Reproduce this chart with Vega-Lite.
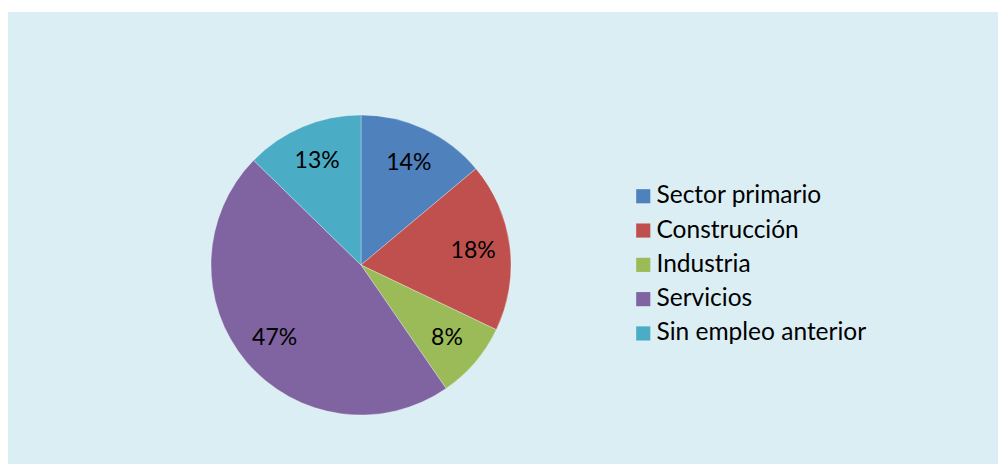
{
  "$schema": "https://vega.github.io/schema/vega-lite/v6.json",
  "padding": {"left": 8, "top": 12, "right": 0, "bottom": 0},
  "background": "white",
  "spacing": 0,
  "config": {
    "view": {"fill": "#DBEEF4", "stroke": null},
    "concat": {"spacing": 0},
    "font": "Lato"
  },
  "data": {
    "values": [
      {"sector": "Sector primario", "share": 0.139, "orden": 1},
      {"sector": "Construcción", "share": 0.182, "orden": 2},
      {"sector": "Industria", "share": 0.083, "orden": 3},
      {"sector": "Servicios", "share": 0.469, "orden": 4},
      {"sector": "Sin empleo anterior", "share": 0.127, "orden": 5}
    ]
  },
  "vconcat": [
    {
      "width": 990,
      "height": 54,
      "view": {"fill": "#DBEEF4", "stroke": null},
      "mark": {"type": "point", "opacity": 0},
      "encoding": {}
    },
    {
      "spacing": 0,
      "hconcat": [
        {
          "width": 706,
          "height": 398,
          "view": {"fill": "#DBEEF4", "stroke": null},
          "encoding": {
            "theta": {"field": "share", "type": "quantitative", "stack": true},
            "order": {"field": "orden", "type": "quantitative"}
          },
          "layer": [
            {
              "mark": {"type": "arc", "outerRadius": 150, "stroke": "#ffffff", "strokeWidth": 0.5, "strokeOpacity": 0.6},
              "encoding": {
                "color": {
                  "field": "sector",
                  "type": "nominal",
                  "sort": null,
                  "scale": {
                    "domain": ["Sector primario", "Construcción", "Industria", "Servicios", "Sin empleo anterior"],
                    "range": ["#4F81BD", "#C0504D", "#9BBB59", "#8064A2", "#4BACC6"]
                  },
                  "legend": {
                    "title": null,
                    "orient": "none",
                    "legendX": 623,
                    "legendY": 172,
                    "padding": 0,
                    "symbolType": "square",
                    "symbolSize": 200,
                    "symbolStrokeWidth": 0,
                    "labelFont": "Lato",
                    "labelFontSize": 24.5,
                    "labelColor": "#000000",
                    "labelOffset": 1,
                    "rowPadding": 9.3,
                    "labelLimit": 400
                  }
                }
              }
            },
            {
              "mark": {"type": "text", "radius": 113, "font": "Lato", "fontSize": 23, "color": "#000000", "align": "center", "baseline": "middle"},
              "encoding": {
                "text": {"field": "share", "type": "quantitative", "format": ".0%"}
              }
            }
          ]
        },
        {
          "width": 284,
          "height": 398,
          "view": {"fill": "#DBEEF4", "stroke": null},
          "mark": {"type": "point", "opacity": 0},
          "encoding": {}
        }
      ]
    }
  ]
}
